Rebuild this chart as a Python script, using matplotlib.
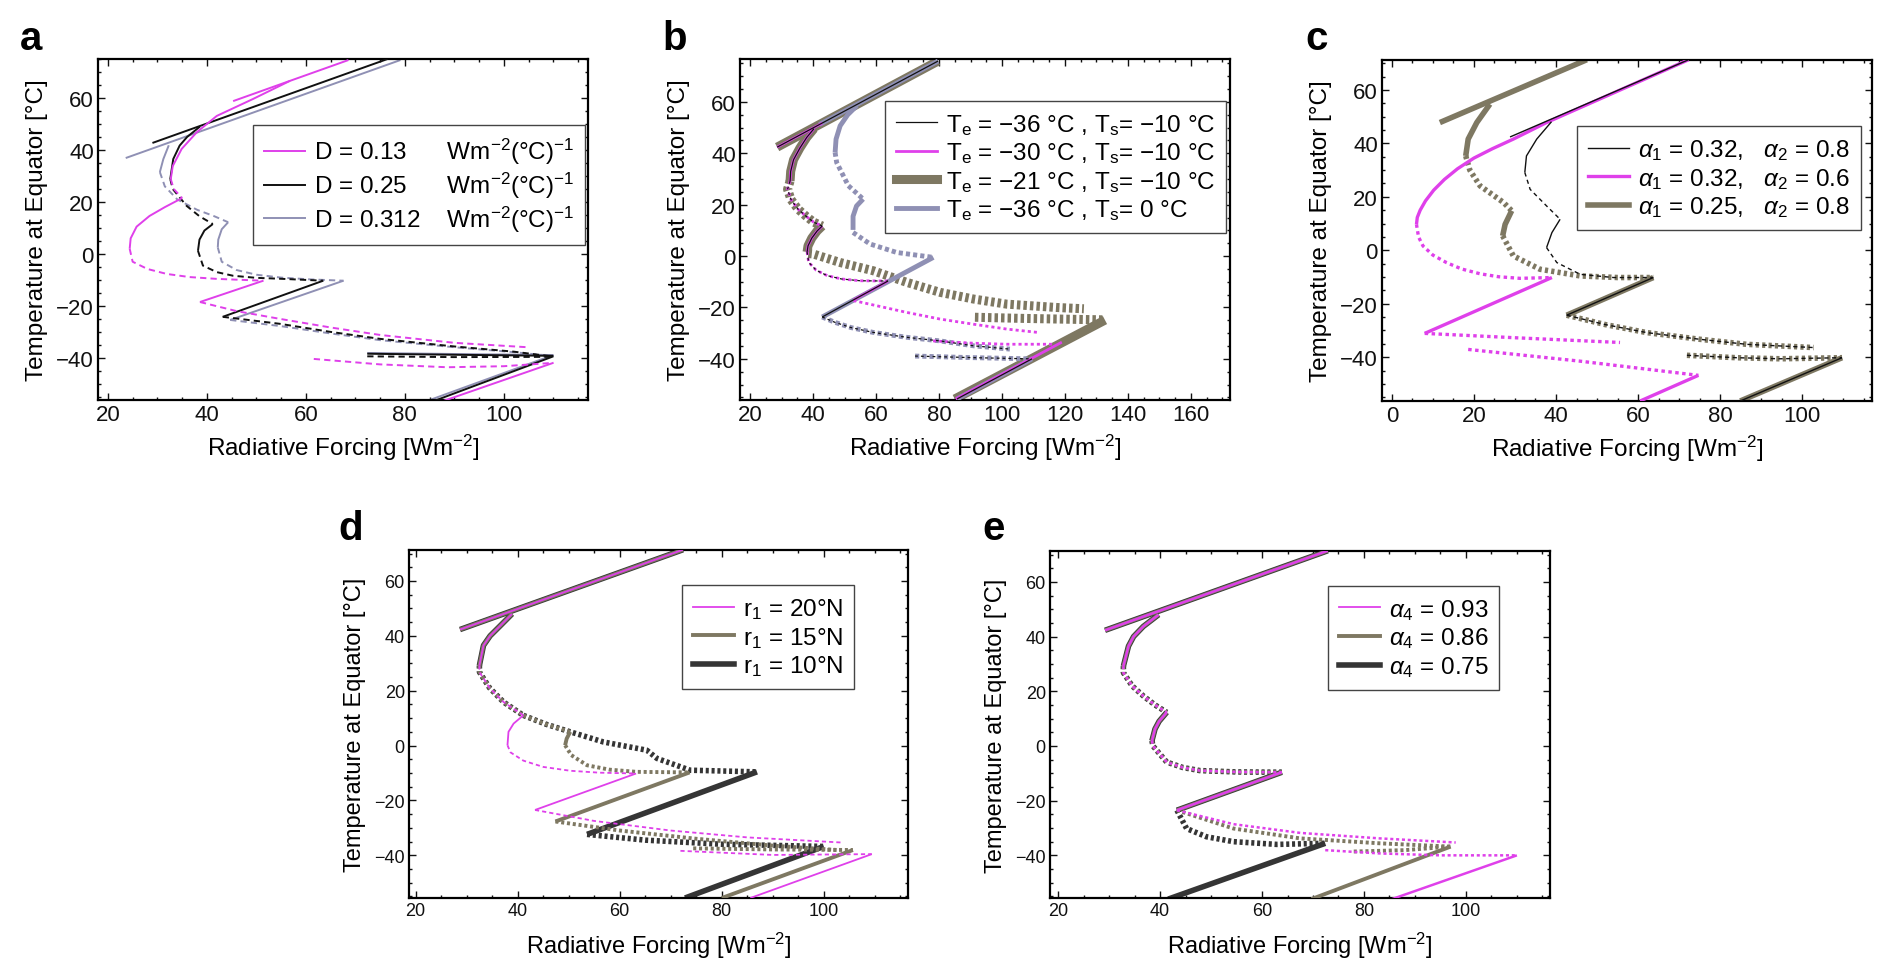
import matplotlib
matplotlib.use("Agg")
import matplotlib.pyplot as plt
from matplotlib.lines import Line2D
from matplotlib.ticker import MultipleLocator

plt.rcParams["font.family"] = ["Liberation Sans", "DejaVu Sans"]
plt.rcParams["mathtext.fontset"] = "custom"
plt.rcParams["mathtext.rm"] = "Liberation Sans"
plt.rcParams["mathtext.it"] = "Liberation Sans:italic"
plt.rcParams["mathtext.bf"] = "Liberation Sans:bold"
plt.rcParams["lines.scale_dashes"] = False

MAGENTA = "#df40ea"
BLACK = "#111111"
SLATE = "#8f90b4"
OLIVE = "#7e7862"
DARK = "#353535"

# each branch: (kind, forcing values, equator temperatures); "s" stable, "d" unstable
# ---- panel a: diffusion D ----
a_d013 = [
    ("s", [45.3, 68.6], [58.8, 74.6]),
    ("s", [56.8, 49.3, 42.0, 38.0, 34.9, 33.1, 32.7], [66.6, 59.6, 53.1, 46.9, 40.4, 33.8, 28.8]),
    ("d", [32.7, 33.3, 35.0], [28.8, 25.0, 21.5]),
    ("s", [35.0, 31.5, 28.4, 25.8, 24.6, 24.4], [21.5, 18.0, 14.6, 10.5, 6.0, 2.0]),
    ("d", [24.4, 25.0, 28.0, 31.9, 36.5, 42.0, 51.4], [2.0, -3.0, -5.8, -7.7, -8.9, -9.6, -10.3]),
    ("s", [51.4, 38.6], [-10.3, -18.5]),
    ("d", [38.6, 46.0, 54.8, 65.0, 75.1, 90.0, 104.8], [-18.5, -22.0, -25.0, -28.3, -31.2, -34.2, -35.9]),
    ("d", [61.6, 75.0, 88.6, 100.0, 110.0], [-40.4, -42.5, -43.6, -43.2, -41.9]),
    ("s", [110.0, 87.9], [-41.9, -56.5]),
]
a_d025 = [
    ("s", [29.0, 76.5], [42.7, 75.0]),
    ("s", [38.6, 36.0, 34.5, 33.2, 32.6], [49.0, 45.0, 41.7, 36.5, 28.8]),
    ("d", [32.6, 33.1, 35.9, 38.5, 41.2], [28.8, 25.0, 18.5, 14.5, 11.5]),
    ("s", [41.2, 39.5, 38.5, 38.2], [11.5, 9.0, 5.5, 1.2]),
    ("d", [38.2, 39.2, 42.0, 45.3, 50.0, 55.4, 63.5], [1.2, -4.5, -7.0, -8.4, -9.2, -9.6, -10.3]),
    ("s", [63.5, 43.2], [-10.3, -24.2]),
    ("d", [43.2, 54.8, 65.0, 75.1, 90.0, 102.0, 110.0], [-24.2, -26.9, -30.0, -32.7, -35.6, -37.6, -39.5]),
    ("s", [72.4, 90.0, 110.0], [-38.4, -38.8, -39.2]),
    ("d", [72.4, 90.0, 110.0], [-39.4, -39.7, -39.6]),
    ("s", [110.0, 86.0], [-39.4, -56.5]),
]
a_d0312 = [
    ("s", [23.6, 79.1], [36.9, 74.6]),
    ("s", [32.3, 31.2, 30.5], [41.8, 36.5, 31.5]),
    ("d", [30.5, 31.5, 34.0, 38.0, 41.5, 44.3], [31.5, 26.0, 21.0, 17.0, 14.5, 12.2]),
    ("s", [44.3, 43.0, 42.3, 42.2], [12.2, 9.5, 5.5, 2.5]),
    ("d", [42.2, 43.0, 46.0, 50.0, 55.0, 61.0, 67.6], [2.5, -3.0, -6.2, -8.0, -9.1, -9.8, -10.3]),
    ("s", [67.6, 44.7], [-10.3, -25.4]),
    ("d", [44.7, 55.0, 65.0, 75.1, 90.0, 102.0, 110.0], [-25.4, -27.8, -30.6, -33.2, -35.9, -37.8, -39.3]),
    ("s", [72.4, 90.0, 110.0], [-38.1, -38.5, -38.9]),
    ("s", [110.0, 84.6], [-38.9, -56.5]),
]
a_labels = ["D = 0.13      Wm$^{-2}$(°C)$^{-1}$",
            "D = 0.25      Wm$^{-2}$(°C)$^{-1}$",
            "D = 0.312    Wm$^{-2}$(°C)$^{-1}$"]

# ---- panel b: Te / Ts ----
b_upper = [
    ("s", [40.3, 38.0, 35.8, 33.8, 32.9, 32.7], [49.6, 46.2, 42.0, 37.5, 33.0, 29.2]),
    ("d", [32.7, 31.9, 33.0, 35.2, 37.8, 40.2, 42.9], [29.2, 26.0, 22.0, 18.3, 15.5, 13.2, 11.7]),
    ("s", [42.9, 41.3, 39.6, 38.4, 38.1], [11.7, 9.8, 7.0, 4.0, 1.6]),
]
b_mid = [
    ("d", [38.1, 38.6, 41.0, 44.5, 49.0, 55.0, 63.8], [1.6, -2.4, -5.5, -7.6, -8.9, -9.6, -9.7]),
]
b_cold = [
    ("s", [63.8, 42.9], [-9.7, -23.7]),
]
b_lower = [
    ("d", [42.9, 47.0, 52.0, 59.1, 69.7, 80.3, 90.9, 102.5], [-23.7, -25.8, -27.8, -29.7, -31.6, -33.0, -34.9, -36.2]),
    ("d", [72.4, 90.0, 109.5], [-38.9, -39.5, -40.0]),
    ("s", [109.5, 85.7], [-40.0, -55.6]),
]
b_warm = [("s", [28.6, 79.7], [42.4, 75.9])]
b_te30_own = [
    ("s", [28.6, 43.0], [42.4, 51.8]),
    ("s", [63.8, 52.8], [-9.7, -17.1]),
    ("d", [52.8, 69.7, 80.3, 90.9, 101.5, 111.4], [-17.3, -21.9, -24.5, -26.5, -28.4, -29.7]),
    ("d", [78.1, 90.9, 101.5, 116.2], [-33.0, -33.9, -34.3, -34.3]),
    ("s", [119.0, 85.3], [-33.5, -55.6]),
]
b_te21_own = [
    ("d", [38.5, 40.1, 48.6, 59.1, 69.7, 80.3, 90.9, 101.5, 117.4, 126.0], [1.0, 0.8, -2.5, -5.7, -10.2, -14.1, -16.7, -18.7, -20.0, -20.5]),
    ("d", [91.4, 105.0, 118.0, 132.0], [-23.8, -24.2, -24.5, -24.8]),
    ("s", [132.7, 85.0], [-24.9, -55.6]),
]
b_ts0_own = [
    ("s", [42.0, 79.7], [51.2, 75.9]),
    ("s", [53.9, 51.0, 48.6, 47.3, 47.0], [58.5, 55.0, 50.7, 45.5, 40.3]),
    ("d", [47.0, 47.5, 51.2, 55.9], [40.3, 36.4, 27.4, 22.2]),
    ("s", [55.9, 53.8, 52.7, 52.7], [22.2, 19.5, 15.5, 10.2]),
    ("d", [52.7, 58.1, 66.6, 78.2], [9.2, 4.7, 1.4, -0.5]),
    ("s", [78.2, 42.9], [-0.5, -23.7]),
]
b_labels = ["T$_\\mathrm{e}$ = −36 °C , T$_\\mathrm{s}$= −10 °C",
            "T$_\\mathrm{e}$ = −30 °C , T$_\\mathrm{s}$= −10 °C",
            "T$_\\mathrm{e}$ = −21 °C , T$_\\mathrm{s}$= −10 °C",
            "T$_\\mathrm{e}$ = −36 °C , T$_\\mathrm{s}$= 0 °C"]

# ---- panel c: albedos ----
c_cold = [
    ("s", [63.7, 42.6], [-10.2, -24.3]),
    ("d", [42.6, 52.0, 62.1, 75.0, 86.5, 102.8], [-24.3, -27.8, -30.8, -33.3, -35.2, -36.4]),
    ("d", [71.9, 84.0, 94.6, 109.7], [-39.3, -40.2, -40.6, -40.2]),
    ("s", [109.7, 84.9], [-40.2, -56.4]),
]
c_a032_08 = [
    ("s", [28.8, 72.3], [42.4, 71.3]),
    ("s", [38.9, 35.3, 32.8, 32.4], [48.1, 41.6, 35.3, 29.1]),
    ("d", [32.4, 33.7, 37.7, 41.0], [29.1, 22.8, 16.6, 11.6]),
    ("s", [41.0, 39.0, 37.7], [11.6, 6.6, 1.0]),
    ("d", [37.7, 40.2, 45.9, 54.0, 63.7], [1.0, -4.6, -9.0, -10.2, -10.2]),
]
c_a025_08 = [
    ("s", [11.7, 47.5], [47.8, 71.3]),
    ("s", [23.9, 20.7, 18.6, 18.0], [54.7, 47.8, 41.6, 35.3]),
    ("d", [18.0, 19.0, 21.5, 27.2, 29.2], [35.3, 30.0, 24.1, 17.9, 14.8]),
    ("s", [29.2, 27.6, 27.0], [14.8, 9.7, 5.4]),
    ("d", [27.0, 29.6, 36.1, 45.9, 55.0, 63.7], [5.4, -2.1, -7.1, -9.6, -10.2, -10.2]),
]
c_a032_06 = [
    ("s", [72.3, 37.7, 29.6, 24.5, 20.0, 16.0, 12.8, 10.2, 8.2, 6.9, 6.2, 6.0],
          [71.3, 47.8, 41.6, 38.0, 34.5, 30.5, 26.5, 22.5, 18.5, 15.0, 12.3, 9.7]),
    ("d", [6.0, 6.5, 7.6, 10.0, 13.3, 17.0, 21.5, 26.0, 31.2, 39.0],
          [9.7, 5.0, 1.6, -1.8, -4.6, -7.0, -8.8, -9.9, -10.5, -10.2]),
    ("s", [39.0, 8.0], [-10.2, -31.1]),
    ("d", [8.0, 29.6, 55.6], [-31.1, -32.7, -34.5]),
    ("d", [18.6, 45.9, 74.7], [-37.1, -41.5, -46.8]),
    ("s", [74.7, 60.5], [-46.8, -56.4]),
]
c_labels = ["$\\alpha_1$ = 0.32,   $\\alpha_2$ = 0.8",
            "$\\alpha_1$ = 0.32,   $\\alpha_2$ = 0.6",
            "$\\alpha_1$ = 0.25,   $\\alpha_2$ = 0.8"]

# ---- panel d: ice edge latitude r1 ----
d_common = [
    ("s", [28.7, 72.4], [42.3, 71.4]),
    ("s", [38.9, 36.6, 34.6, 33.3, 32.5], [48.0, 43.7, 40.0, 36.5, 29.2]),
    ("d", [32.5, 32.5, 34.5, 37.2, 41.1], [29.2, 26.8, 21.0, 15.9, 11.0]),
]
d_r20 = [
    ("s", [41.1, 39.2, 38.2, 38.0], [11.0, 8.0, 5.0, 0.1]),
    ("d", [38.0, 38.6, 41.1, 45.0, 50.3, 56.0, 63.2], [0.1, -2.5, -5.5, -7.8, -9.2, -9.9, -10.2]),
    ("s", [63.2, 43.4], [-10.2, -23.5]),
    ("d", [43.4, 55.0, 70.0, 85.0, 103.8], [-23.5, -27.5, -31.0, -33.5, -35.4]),
    ("d", [71.9, 90.0, 109.4], [-38.4, -39.9, -39.6]),
    ("s", [109.4, 85.6], [-39.6, -55.6]),
]
d_r15 = [
    ("d", [41.1, 45.5, 50.3], [11.0, 7.8, 5.0]),
    ("s", [50.3, 49.6, 49.3], [5.0, 2.5, 0.1]),
    ("d", [49.3, 50.5, 53.6, 58.0, 63.3, 73.7], [0.1, -3.5, -7.2, -8.8, -9.6, -9.8]),
    ("s", [73.7, 47.4], [-9.8, -27.7]),
    ("d", [47.4, 60.0, 75.0, 90.0, 102.5], [-27.7, -31.0, -34.0, -36.5, -38.1]),
    ("d", [74.4, 90.0, 105.7], [-37.5, -37.9, -38.1]),
    ("s", [105.7, 80.0], [-38.1, -55.6]),
]
d_r10 = [
    ("d", [41.1, 45.5, 50.3, 56.8, 65.3, 67.3, 73.8, 86.9], [11.0, 7.8, 5.0, 1.3, -1.7, -4.7, -9.0, -9.6]),
    ("s", [86.9, 53.6], [-9.6, -32.4]),
    ("d", [53.6, 65.0, 80.0, 100.0], [-32.4, -34.5, -36.0, -36.8]),
    ("s", [100.0, 72.8], [-36.8, -55.6]),
]
d_labels = ["r$_1$ = 20°N", "r$_1$ = 15°N", "r$_1$ = 10°N"]

# ---- panel e: alpha4 ----
e_common = [
    ("s", [29.2, 72.9], [42.3, 71.4]),
    ("s", [39.7, 36.7, 34.8, 33.8, 32.8], [48.0, 43.7, 40.0, 36.5, 29.2]),
    ("d", [32.8, 32.8, 34.5, 36.7, 39.0, 41.3], [29.2, 26.8, 22.0, 18.3, 15.0, 12.3]),
    ("s", [41.3, 39.8, 39.0, 38.4], [12.3, 9.0, 6.2, 1.9]),
    ("d", [38.4, 38.6, 41.3, 44.5, 47.8, 55.0, 63.9], [1.9, 0.0, -5.9, -7.9, -9.0, -9.5, -9.6]),
    ("s", [63.9, 43.3], [-9.6, -23.5]),
]
e_a093 = [
    ("d", [43.3, 54.4, 67.5, 83.1, 98.0], [-23.5, -28.6, -31.8, -33.8, -35.3]),
    ("d", [72.4, 83.1, 95.0, 110.0], [-38.1, -39.3, -40.0, -40.0]),
    ("s", [110.0, 85.5], [-40.0, -56.0]),
]
e_a086 = [
    ("d", [43.3, 54.4, 67.5, 83.1, 97.0], [-23.5, -30.2, -33.8, -35.6, -36.8]),
    ("d", [78.0, 88.0, 97.0], [-38.6, -38.1, -36.8]),
    ("s", [97.0, 69.7], [-36.8, -56.0]),
]
e_a075 = [
    ("d", [43.3, 45.2, 49.1, 54.4, 62.9, 72.4], [-23.5, -30.2, -33.2, -35.0, -36.0, -35.6]),
    ("s", [72.4, 41.6], [-35.6, -56.0]),
]
e_labels = ["$\\alpha_4$ = 0.93", "$\\alpha_4$ = 0.86", "$\\alpha_4$ = 0.75"]


def draw(ax, segs, color, lw, dash, z):
    for kind, xs, ys in segs:
        style = "-" if kind == "s" else (0, dash)
        ax.plot(xs, ys, color=color, lw=lw, linestyle=style, zorder=z,
                solid_capstyle="butt", dash_capstyle="butt")


def frame(ax, xlim, ylim, tick_size, label_size, xpad):
    ax.set_xlim(*xlim)
    ax.set_ylim(*ylim)
    for axis in (ax.xaxis, ax.yaxis):
        axis.set_major_locator(MultipleLocator(20))
        axis.set_minor_locator(MultipleLocator(5))
    ax.tick_params(which="both", direction="in", top=True, right=True,
                   width=1.0, labelsize=tick_size, pad=3, colors="#111111")
    ax.tick_params(which="major", length=5)
    ax.tick_params(which="minor", length=2.5)
    for sp in ax.spines.values():
        sp.set_linewidth(1.6)
    ax.set_xlabel("Radiative Forcing [Wm$^{-2}$]", fontsize=label_size, labelpad=xpad)
    ax.set_ylabel("Temperature at Equator [°C]", fontsize=label_size, labelpad=6)


def legend(ax, styles, labels, anchor):
    handles = [Line2D([], [], color=c, lw=w) for c, w in styles]
    leg = ax.legend(handles, labels, loc="upper left", bbox_to_anchor=anchor,
                    borderaxespad=0, fancybox=False, framealpha=1,
                    edgecolor="#444444", fontsize=17.5, handlelength=1.7,
                    handletextpad=0.35, labelspacing=0.15, borderpad=0.45)
    leg.get_frame().set_linewidth(1.0)
    leg.set_zorder(10)


fig = plt.figure(figsize=(18.92, 9.79), dpi=100)
W, H = 1892.0, 979.0

ax_a = fig.add_axes([98 / W, 1 - 401 / H, 490 / W, 341 / H])
ax_b = fig.add_axes([740 / W, 1 - 401 / H, 490 / W, 341 / H])
ax_c = fig.add_axes([1382 / W, 1 - 402 / H, 490 / W, 341 / H])
ax_d = fig.add_axes([409 / W, 1 - 899 / H, 499 / W, 348 / H])
ax_e = fig.add_axes([1050 / W, 1 - 899 / H, 500 / W, 347 / H])

# a
dash_a = (4.5, 3.0)
draw(ax_a, a_d0312, SLATE, 1.4, dash_a, 2)
draw(ax_a, a_d025, BLACK, 1.4, dash_a, 3)
draw(ax_a, a_d013, MAGENTA, 1.4, dash_a, 4)
frame(ax_a, (18, 117), (-56.2, 75), 16, 17.5, 5)
legend(ax_a, [(MAGENTA, 1.4), (BLACK, 1.4), (SLATE, 1.4)], a_labels, (0.316, 0.806))

# b
draw(ax_b, b_warm + b_upper + b_te21_own, OLIVE, 6.5, (2.5, 2.2), 2)
draw(ax_b, b_ts0_own + b_lower, SLATE, 3.5, (3.0, 2.2), 3)
draw(ax_b, b_upper + b_mid + b_te30_own, MAGENTA, 2.0, (2.2, 2.2), 4)
draw(ax_b, b_warm + b_upper + b_mid + b_cold + b_lower, BLACK, 0.9, (2.0, 2.2), 5)
frame(ax_b, (16.8, 172.4), (-56.0, 76.7), 16, 17.5, 5)
legend(ax_b, [(BLACK, 0.9), (MAGENTA, 2.0), (OLIVE, 6.5), (SLATE, 3.5)], b_labels, (0.296, 0.877))

# c
draw(ax_c, c_a025_08 + c_cold, OLIVE, 4.0, (2.3, 2.3), 2)
draw(ax_c, c_a032_06, MAGENTA, 2.4, (2.5, 2.5), 3)
draw(ax_c, c_a032_08 + c_cold, BLACK, 1.0, (3.0, 2.5), 4)
frame(ax_c, (-2.4, 117), (-56.4, 71.2), 16, 17.5, 5)
legend(ax_c, [(BLACK, 1.0), (MAGENTA, 2.4), (OLIVE, 4.0)], c_labels, (0.398, 0.806))

# d
draw(ax_d, d_common + d_r10, DARK, 4.0, (2.2, 2.0), 2)
draw(ax_d, d_common + d_r15, OLIVE, 2.8, (2.2, 2.0), 3)
draw(ax_d, d_common + d_r20, MAGENTA, 1.3, (3.0, 2.2), 4)
frame(ax_d, (18.7, 116.5), (-55.6, 71.3), 13, 17, 8)
legend(ax_d, [(MAGENTA, 1.3), (OLIVE, 2.8), (DARK, 4.0)], d_labels, (0.547, 0.899))

# e
draw(ax_e, e_common + e_a075, DARK, 4.0, (2.2, 2.0), 2)
draw(ax_e, e_common + e_a086, OLIVE, 2.8, (2.2, 2.0), 3)
draw(ax_e, e_common + e_a093, MAGENTA, 1.8, (2.2, 2.0), 4)
frame(ax_e, (18.4, 116.5), (-55.6, 71.3), 13, 17, 8)
legend(ax_e, [(MAGENTA, 1.3), (OLIVE, 2.8), (DARK, 4.0)], e_labels, (0.556, 0.899))

for letter, px, py in [("a", 20, 50), ("b", 662, 50), ("c", 1305, 50),
                       ("d", 338, 540), ("e", 982, 540)]:
    fig.text(px / W, 1 - py / H, letter, fontsize=29, fontweight="bold",
             ha="left", va="baseline")

fig.savefig("out.png", dpi=100)
